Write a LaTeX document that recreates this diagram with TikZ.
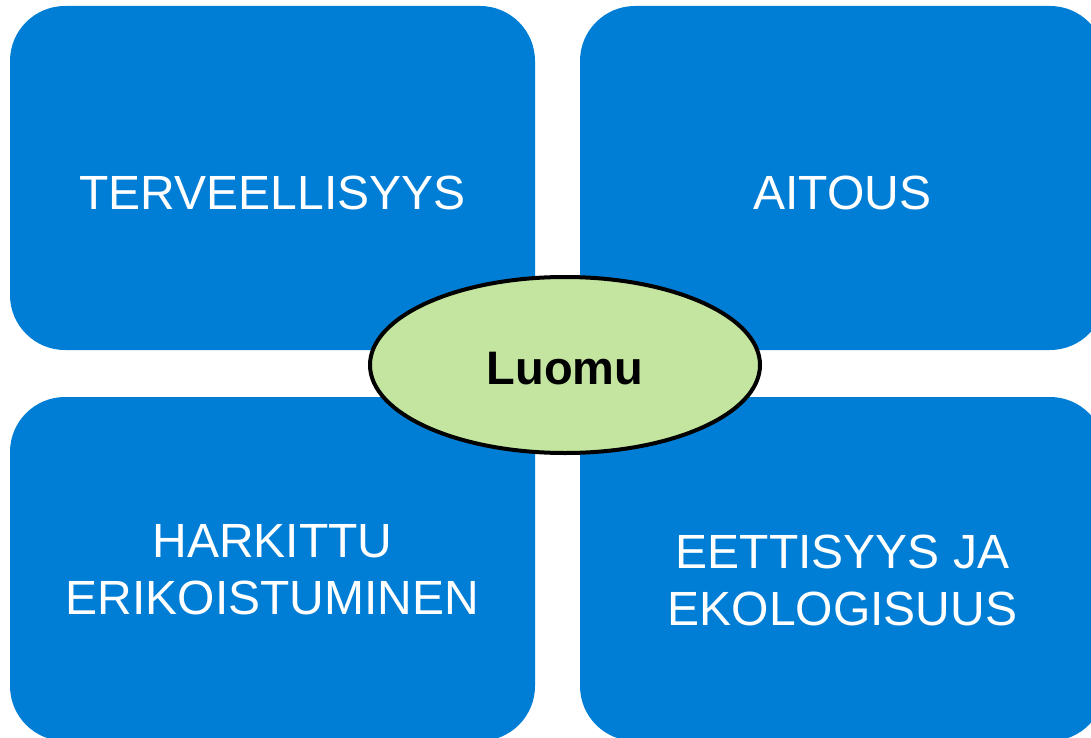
\documentclass[tikz,border=0pt]{standalone}
\usepackage{fontspec}
\setmainfont{Liberation Sans}
\usetikzlibrary{shapes.geometric}
\definecolor{boxblue}{RGB}{0,126,214}
\definecolor{ovalgreen}{RGB}{196,229,160}
\begin{document}
\begin{tikzpicture}[x=1pt,y=-1pt,
  card/.style={fill=boxblue,draw=none,rounded corners=55pt,minimum width=525pt,minimum height=344pt,inner sep=0pt},
  cardtext/.style={text=white,font=\fontsize{48}{57}\selectfont,anchor=base,inner sep=0pt},
  oval/.style={ellipse,fill=ovalgreen,draw=black,line width=4pt,minimum width=390pt,minimum height=176pt,inner sep=0pt,font=\fontsize{47}{56}\selectfont\bfseries}]
\useasboundingbox (0,0) rectangle (1091,738);
\clip (0,0) rectangle (1091,738);
\node[card] (tl) at (272.5,178) {};
\node[card] (tr) at (842.5,178) {};
\node[card] (bl) at (272.5,569) {};
\node[card] (br) at (842.5,569) {};
\node[cardtext] (t1) at (272.5,209) {TERVEELLISYYS};
\node[cardtext] (t2) at (842.5,209) {AITOUS};
\node[cardtext] (t3a) at (272.5,557) {HARKITTU};
\node[cardtext] (t3b) at (272.5,614) {ERIKOISTUMINEN};
\node[cardtext] (t4a) at (842.5,568) {EETTISYYS JA};
\node[cardtext] (t4b) at (842.5,625) {EKOLOGISUUS};
\node[oval] (c) at (565,365) {};
\node[anchor=base,inner sep=0pt,font=\fontsize{47}{56}\selectfont\bfseries] (cl) at (565,384) {Luomu};
\end{tikzpicture}
\end{document}
